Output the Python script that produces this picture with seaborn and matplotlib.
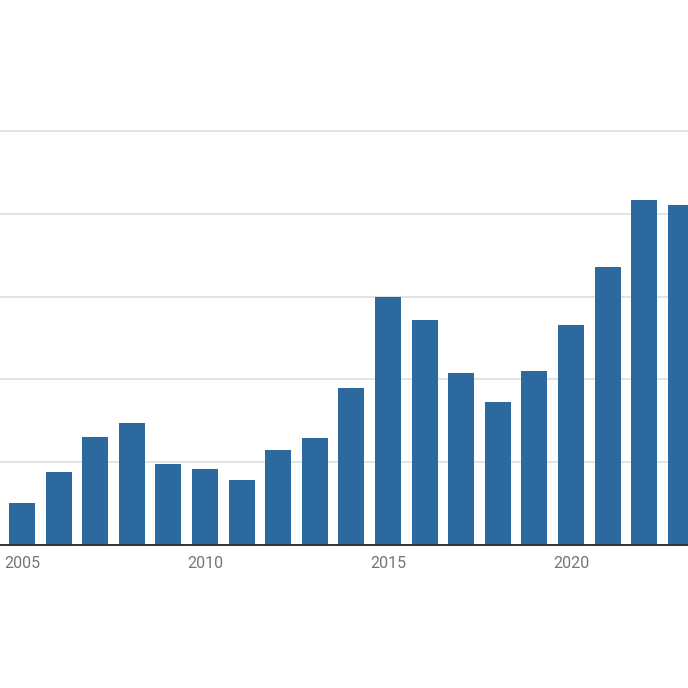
import matplotlib
matplotlib.use("Agg")
import matplotlib.pyplot as plt
import seaborn as sns
import pandas as pd

years = [str(y) for y in range(2005, 2024)]
values = [0.51, 0.88, 1.30, 1.47, 0.98, 0.92, 0.78, 1.15, 1.29, 1.89,
          2.99, 2.72, 2.08, 1.73, 2.10, 2.66, 3.36, 4.17, 4.10]
tick_years = ["2005", "2010", "2015", "2020"]

df = pd.DataFrame({"year": years, "value": values})

sns.set_theme(style="white")
plt.rcParams['font.family'] = ['Roboto', 'DejaVu Sans']

fig = plt.figure(figsize=(6.88, 6.88), dpi=100)
ax = fig.add_axes([0, 1 - 545 / 688, 1, (545 - 48) / 688])

sns.barplot(data=df, x="year", y="value", color="#2c699f", saturation=1,
            width=0.71, linewidth=0, ax=ax, zorder=3)

ax.set_ylim(0, 6)
ax.set_xlim(-22 / 36.6, (688 - 22) / 36.6)
ax.set_yticks([1, 2, 3, 4, 5])
ax.yaxis.grid(True, color="#e3e3e3", linewidth=1.4, zorder=0)
ax.set_axisbelow(True)
ax.set_yticklabels([])
ax.tick_params(axis="y", length=0)

pos = [years.index(t) for t in tick_years]
ax.set_xticks(pos)
ax.set_xticklabels(tick_years, color="#757575", fontsize=11.5)
ax.tick_params(axis="x", length=0, pad=8)
ax.set_xlabel("")
ax.set_ylabel("")

for s in ["top", "left", "right"]:
    ax.spines[s].set_visible(False)
ax.spines["bottom"].set_color("#333333")
ax.spines["bottom"].set_linewidth(1.4)
ax.spines["bottom"].set_zorder(4)

fig.savefig("out.png", dpi=100)
